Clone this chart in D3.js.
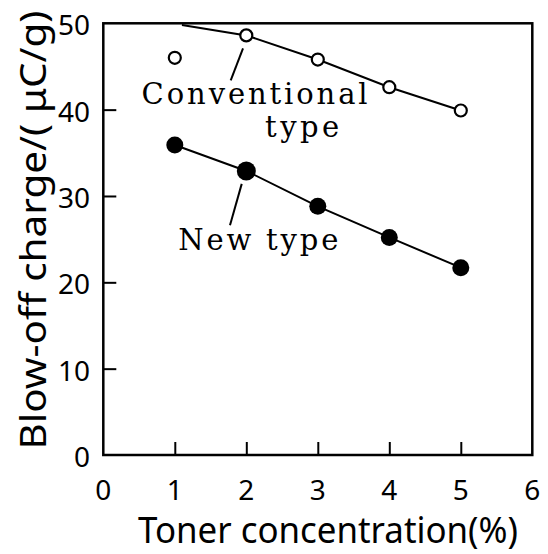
<!DOCTYPE html>
<meta charset="utf-8">
<script src="https://cdn.jsdelivr.net/npm/d3@7"></script>
<style>
    body { margin: 0; background: #fff; }
    .tick-label { font-family: "Noto Sans", sans-serif; font-size: 28px; fill: #000; }
    .axis-title { font-family: "Noto Sans", sans-serif; font-size: 36px; fill: #000; }
    .note { font-family: "DejaVu Serif", serif; font-size: 29px; fill: #000; }
</style>
<body>
<script>
// toner concentration (%)
var conc = [1, 2, 3, 4, 5];
// blow-off charge (uC/g)
var conventional = [46.0, 48.6, 45.8, 42.6, 39.9];
var newType = [35.9, 32.9, 28.8, 25.2, 21.7];
// the conventional curve starts at the top edge, not at the first point
var convLineStart = [1.1, 49.8];

var xTicks = [0, 1, 2, 3, 4, 5, 6];
var yTicks = [0, 10, 20, 30, 40, 50];

var width = 548, height = 554;
var svg = d3.select("body").append("svg")
    .attr("width", width)
    .attr("height", height);

var x = d3.scaleLinear().domain([0, 6]).range([103.3, 532.3]);
var y = d3.scaleLinear().domain([0, 50]).range([455, 23.3]);

// frame
svg.append("rect")
    .attr("x", x(0)).attr("y", y(50))
    .attr("width", x(6) - x(0)).attr("height", y(0) - y(50))
    .attr("fill", "none").attr("stroke", "#000").attr("stroke-width", 2.5);

// inward ticks
svg.append("g")
    .attr("transform", "translate(0," + y(0) + ")")
    .call(d3.axisBottom(x).tickValues(conc).tickSize(-13).tickFormat(""))
    .call(function(g) { g.select(".domain").remove(); })
    .selectAll("line").attr("stroke-width", 2);

svg.append("g")
    .attr("transform", "translate(" + x(0) + ",0)")
    .call(d3.axisLeft(y).tickValues([10, 20, 30, 40]).tickSize(-13).tickFormat(""))
    .call(function(g) { g.select(".domain").remove(); })
    .selectAll("line").attr("stroke-width", 2);

// tick labels
svg.selectAll("text.xl")
    .data(xTicks)
    .enter().append("text")
    .attr("class", "tick-label")
    .attr("x", function(d) { return x(d); })
    .attr("y", 489)
    .attr("text-anchor", "middle")
    .attr("dominant-baseline", "central")
    .text(function(d) { return d; });

svg.selectAll("text.yl")
    .data(yTicks)
    .enter().append("text")
    .attr("class", "tick-label")
    .attr("x", 90)
    .attr("y", function(d) { return y(d) + 1; })
    .attr("text-anchor", "end")
    .attr("dominant-baseline", "central")
    .text(function(d) { return d; });

// axis titles
svg.append("text")
    .attr("class", "axis-title")
    .attr("x", 328).attr("y", 543)
    .attr("text-anchor", "middle")
    .attr("textLength", 380).attr("lengthAdjust", "spacingAndGlyphs")
    .text("Toner concentration(%)");

svg.append("text")
    .attr("class", "axis-title")
    .attr("transform", "translate(46,230) rotate(-90)")
    .attr("text-anchor", "middle")
    .attr("textLength", 439).attr("lengthAdjust", "spacingAndGlyphs")
    .text("Blow-off charge/( \u03bcC/g)");

// lines
var line = d3.line().x(function(d) { return x(d[0]); }).y(function(d) { return y(d[1]); });

var convPts = conc.map(function(c, i) { return [c, conventional[i]]; });
var newPts = conc.map(function(c, i) { return [c, newType[i]]; });

svg.append("path")
    .datum([convLineStart].concat(convPts.slice(1)))
    .attr("d", line)
    .attr("fill", "none").attr("stroke", "#000").attr("stroke-width", 2);

svg.append("path")
    .datum(newPts)
    .attr("d", line)
    .attr("fill", "none").attr("stroke", "#000").attr("stroke-width", 2);

// markers
svg.selectAll("circle.conv")
    .data(convPts)
    .enter().append("circle")
    .attr("cx", function(d) { return x(d[0]); })
    .attr("cy", function(d) { return y(d[1]); })
    .attr("r", 6)
    .attr("fill", "#fff").attr("stroke", "#000").attr("stroke-width", 2.2);

svg.selectAll("circle.new")
    .data(newPts)
    .enter().append("circle")
    .attr("cx", function(d) { return x(d[0]); })
    .attr("cy", function(d) { return y(d[1]); })
    .attr("r", function(d, i) { return i == 1 ? 9.5 : 8.5; })
    .attr("fill", "#000");

// callout leaders and labels
var leaders = [[[1.954, 47.1], [1.782, 43.4]], [[1.936, 31.4], [1.772, 26.6]]];
svg.selectAll("line.leader")
    .data(leaders)
    .enter().append("line")
    .attr("x1", function(d) { return x(d[0][0]); })
    .attr("y1", function(d) { return y(d[0][1]); })
    .attr("x2", function(d) { return x(d[1][0]); })
    .attr("y2", function(d) { return y(d[1][1]); })
    .attr("stroke", "#000").attr("stroke-width", 2);

svg.append("text").attr("class", "note")
    .attr("x", x(0.536)).attr("y", y(40.7))
    .attr("textLength", 226).attr("lengthAdjust", "spacing")
    .text("Conventional");
svg.append("text").attr("class", "note")
    .attr("x", x(2.78)).attr("y", y(36.8))
    .attr("text-anchor", "middle")
    .attr("textLength", 74).attr("lengthAdjust", "spacing")
    .text("type");
svg.append("text").attr("class", "note")
    .attr("x", x(1.049)).attr("y", y(23.7))
    .attr("textLength", 160).attr("lengthAdjust", "spacing")
    .text("New type");
</script>
</body>
